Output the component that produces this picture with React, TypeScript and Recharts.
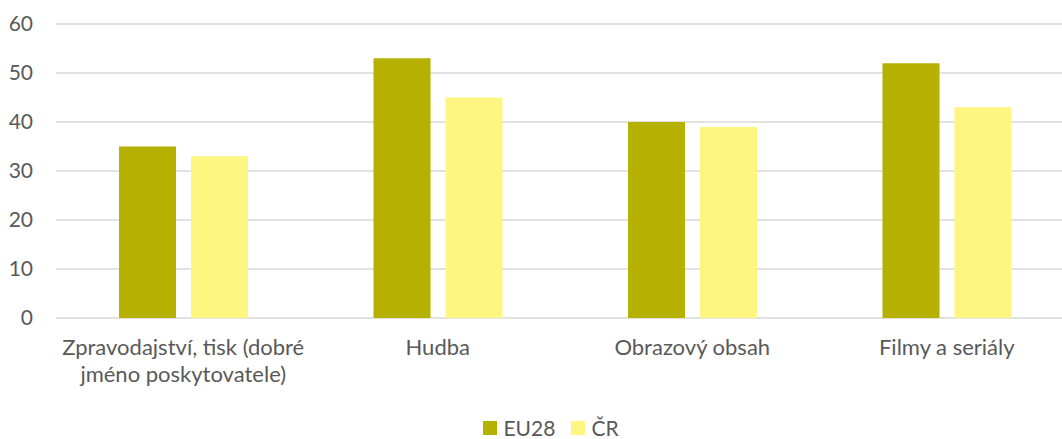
import { BarChart, Bar, XAxis, YAxis, CartesianGrid, Legend } from 'recharts';

const categoryLines = [
  ['Zpravodajství, tisk (dobré', 'jméno poskytovatele)'],
  ['Hudba'],
  ['Obrazový obsah'],
  ['Filmy a seriály'],
];
const categories = categoryLines.map((l) => l.join(' '));
const eu28 = [35, 53, 40, 52];
const cr = [33, 45, 39, 43];
const yTicks = [0, 10, 20, 30, 40, 50, 60];

const data = categories.map((name, i) => ({ name, EU28: eu28[i], CR: cr[i] }));

const FONT = 'Lato, "Open Sans", sans-serif';
const TEXT = '#595959';

function CategoryTick(props: any) {
  const { x, y, index } = props;
  const lines = categoryLines[index] || [];
  return (
    <text x={x} y={y} textAnchor="middle" fill={TEXT} fontSize={22} fontFamily={FONT}>
      {lines.map((line, i) => (
        <tspan key={i} x={x} dy={i === 0 ? 15.5 : 27.5}>
          {line}
        </tspan>
      ))}
    </text>
  );
}

function ChartLegend({ payload }: any) {
  return (
    <div style={{ display: 'flex', justifyContent: 'center', paddingTop: 6, paddingLeft: 44 }}>
      {(payload || []).map((p: any) => (
        <span
          key={p.value}
          style={{ display: 'flex', alignItems: 'center', marginRight: 16, fontFamily: FONT, fontSize: 21, color: TEXT }}
        >
          <span style={{ width: 14, height: 14, background: p.color, marginRight: 6, display: 'inline-block' }} />
          {p.value}
        </span>
      ))}
    </div>
  );
}

export default function App() {
  return (
    <div style={{ position: 'absolute', left: 0, top: 0, width: 1062, height: 439, overflow: 'hidden', background: '#fff' }}>
      <BarChart
        width={1080}
        height={439}
        data={data}
        margin={{ top: 24, right: 6, bottom: 0, left: 0 }}
        barSize={57}
        barGap={15}
      >
        <CartesianGrid vertical={false} stroke="#D9D9D9" strokeWidth={1.3} />
        <XAxis
          dataKey="name"
          axisLine={false}
          tickLine={false}
          tickSize={6}
          tickMargin={15}
          height={91}
          interval={0}
          tick={<CategoryTick />}
        />
        <YAxis
          domain={[0, 60]}
          ticks={yTicks}
          width={56}
          axisLine={false}
          tickLine={false}
          tickSize={6}
          tickMargin={17}
          tick={{ fill: TEXT, fontSize: 21, fontFamily: FONT }}
        />
        <Legend verticalAlign="bottom" height={30} content={<ChartLegend />} />
        <Bar dataKey="EU28" name="EU28" fill="#B6B100" isAnimationActive={false} />
        <Bar dataKey="CR" name="ČR" fill="#FFF581" isAnimationActive={false} />
      </BarChart>
    </div>
  );
}
